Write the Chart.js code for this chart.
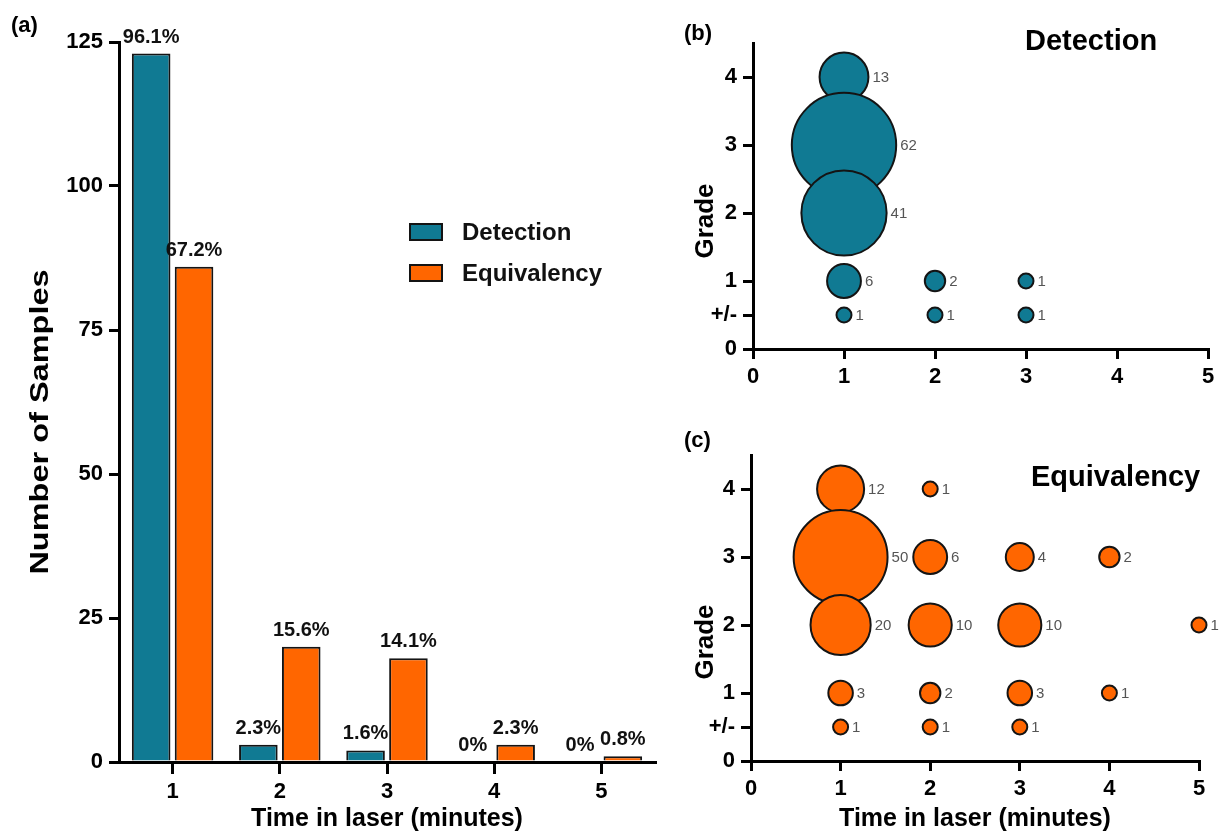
<!DOCTYPE html>
<html>
<head>
<meta charset="utf-8">
<script src="https://cdn.jsdelivr.net/npm/chart.js@4.4.1/dist/chart.umd.min.js"></script>
<style>
  html, body { margin: 0; padding: 0; background: #fff; }
  body { width: 1221px; height: 832px; position: relative; overflow: hidden; }
  canvas { position: absolute; }
  #bars { left: 0; top: 0; }
  #detection { left: 670px; top: 0; }
  #equivalency { left: 670px; top: 400px; }
</style>
</head>
<body>
<canvas id="bars" width="670" height="832"></canvas>
<canvas id="detection" width="551" height="400"></canvas>
<canvas id="equivalency" width="551" height="432"></canvas>
<script>
// (a) samples per time in laser
const timeLabels = ["1", "2", "3", "4", "5"]
const detectionCounts = [123, 3, 2, 0, 0]
const equivalencyCounts = [86, 20, 18, 3, 1]
const detectionPercents = ["96.1%", "2.3%", "1.6%", "0%", "0%"]
const equivalencyPercents = ["67.2%", "15.6%", "14.1%", "2.3%", "0.8%"]
const countTicks = [0, 25, 50, 75, 100, 125]

// (b) and (c) grade vs time, bubble = number of samples
const gradeTickValues = [0, 0.5, 1, 2, 3, 4]
const gradeTickLabels = ["0", "+/-", "1", "2", "3", "4"]

const detectionTimes  = [1, 1, 1, 1, 2, 3, 1, 2, 3]
const detectionGrades = [4, 3, 2, 1, 1, 1, 0.5, 0.5, 0.5]
const detectionSizes  = [13, 62, 41, 6, 2, 1, 1, 1, 1]

const equivalencyTimes  = [1, 2, 1, 2, 3, 4, 1, 2, 3, 5, 1, 2, 3, 4, 1, 2, 3]
const equivalencyGrades = [4, 4, 3, 3, 3, 3, 2, 2, 2, 2, 1, 1, 1, 1, 0.5, 0.5, 0.5]
const equivalencySizes  = [12, 1, 50, 6, 4, 2, 20, 10, 10, 1, 3, 2, 3, 1, 1, 1, 1]

const TEAL = "#107a93"
const ORANGE = "#ff6600"
const EDGE = "#141414"
const FONT = "'Liberation Sans', Arial, Helvetica, sans-serif"

Chart.defaults.font.family = FONT
Chart.defaults.color = "#000"

const bubbleRadius = n => 6.5 * Math.sqrt(n) + 1

const toBubbles = (xs, ys, ns) => xs.map((x, i) => ({ x: x, y: ys[i], r: bubbleRadius(ns[i]), n: ns[i] }))

// free text: panel letters, titles, rotated axis titles
const panelText = {
  id: "panelText",
  afterDraw(chart, args, opts) {
    const ctx = chart.ctx
    ;(opts.items || []).forEach(item => {
      ctx.save()
      ctx.font = item.font
      ctx.fillStyle = item.color || "#000"
      ctx.textAlign = item.align || "left"
      ctx.textBaseline = "middle"
      ctx.translate(item.x, item.y)
      if (item.rotate) ctx.rotate(item.rotate)
      if (item.stretch) ctx.scale(item.stretch, 1)
      ctx.fillText(item.text, 0, 0)
      ctx.restore()
    })
  }
}

// percent labels above bars
const barLabels = {
  id: "barLabels",
  afterDatasetsDraw(chart) {
    const ctx = chart.ctx
    ctx.save()
    ctx.font = "bold 20px " + FONT
    ctx.fillStyle = "#111"
    ctx.textAlign = "center"
    ctx.textBaseline = "alphabetic"
    chart.data.datasets.forEach((ds, i) => {
      chart.getDatasetMeta(i).data.forEach((bar, j) => {
        ctx.fillText(ds.percents[j], bar.x, bar.y - 11)
      })
    })
    ctx.restore()
  }
}

// legend boxes inside the plot
const boxLegend = {
  id: "boxLegend",
  afterDraw(chart, args, opts) {
    const ctx = chart.ctx
    ctx.save()
    ctx.font = "bold 24px " + FONT
    ctx.textBaseline = "middle"
    chart.data.datasets.forEach((ds, i) => {
      const y = opts.y + i * opts.gap
      ctx.fillStyle = ds.backgroundColor
      ctx.fillRect(opts.x, y - 8, 32, 16)
      ctx.lineWidth = 2
      ctx.strokeStyle = EDGE
      ctx.strokeRect(opts.x, y - 8, 32, 16)
      ctx.fillStyle = "#111"
      ctx.fillText(ds.label, opts.x + 52, y + 1)
    })
    ctx.restore()
  }
}

// sample counts to the right of each bubble
const bubbleCounts = {
  id: "bubbleCounts",
  afterDatasetsDraw(chart) {
    const ctx = chart.ctx
    ctx.save()
    ctx.font = "15px " + FONT
    ctx.fillStyle = "#555"
    ctx.textAlign = "left"
    ctx.textBaseline = "middle"
    chart.getDatasetMeta(0).data.forEach((pt, j) => {
      const raw = chart.data.datasets[0].data[j]
      ctx.fillText(String(raw.n), pt.x + raw.r + 4, pt.y + 1)
    })
    ctx.restore()
  }
}

const axisLines = (tickLength) => ({
  display: true,
  drawOnChartArea: false,
  drawTicks: true,
  tickLength: tickLength,
  color: "#000",
  lineWidth: 3
})

new Chart(document.getElementById("bars"), {
  type: "bar",
  data: {
    labels: timeLabels,
    datasets: [
      { label: "Detection", data: detectionCounts, percents: detectionPercents,
        backgroundColor: TEAL, borderColor: EDGE, borderWidth: 2 },
      { label: "Equivalency", data: equivalencyCounts, percents: equivalencyPercents,
        backgroundColor: ORANGE, borderColor: EDGE, borderWidth: 2 }
    ]
  },
  options: {
    responsive: false,
    animation: false,
    events: [],
    layout: { autoPadding: false, padding: { left: 0, top: 42, right: 15, bottom: 0 } },
    plugins: {
      legend: { display: false },
      tooltip: { enabled: false },
      boxLegend: { x: 410, y: 232, gap: 41 },
      panelText: { items: [
        { text: "(a)", x: 11, y: 26, font: "bold 22px " + FONT },
        { text: "Number of Samples", x: 41, y: 422, font: "bold 25px " + FONT,
          align: "center", rotate: -Math.PI / 2, stretch: 1.3 }
      ] }
    },
    scales: {
      x: {
        offset: true,
        grid: Object.assign(axisLines(12), { offset: false }),
        border: { color: "#000", width: 3 },
        ticks: { font: { size: 22, weight: "bold" }, padding: 5 },
        title: { display: true, text: "Time in laser (minutes)",
          font: { size: 25, weight: "bold", lineHeight: 1 }, padding: { top: 0, bottom: 0 } },
        afterFit: scale => { scale.height = 70 }
      },
      y: {
        min: 0,
        max: 125,
        afterBuildTicks: scale => { scale.ticks = countTicks.map(v => ({ value: v })) },
        grid: axisLines(10),
        border: { color: "#000", width: 3 },
        ticks: { font: { size: 22, weight: "bold" }, padding: 6 },
        afterFit: scale => { scale.width = 119 }
      }
    }
  },
  plugins: [barLabels, boxLegend, panelText]
})

function gradeChart(canvasId, points, color, frame, extraText) {
  return new Chart(document.getElementById(canvasId), {
    type: "bubble",
    data: {
      datasets: [{ data: points, backgroundColor: color, borderColor: EDGE, borderWidth: 2,
        hoverRadius: 0, clip: false }]
    },
    options: {
      responsive: false,
      animation: false,
      events: [],
      layout: { autoPadding: false, padding: { left: 0, top: frame.top, right: frame.right, bottom: 0 } },
      plugins: {
        legend: { display: false },
        tooltip: { enabled: false },
        panelText: { items: extraText }
      },
      scales: {
        x: {
          type: "linear",
          min: 0,
          max: 5,
          grid: axisLines(10),
          border: { color: "#000", width: 3 },
          ticks: { stepSize: 1, font: { size: 22, weight: "bold" }, padding: 5 },
          title: { display: frame.xTitle, text: "Time in laser (minutes)",
            font: { size: 25, weight: "bold", lineHeight: 1 }, padding: { top: 0, bottom: 0 } },
          afterFit: scale => { scale.height = frame.xHeight }
        },
        y: {
          type: "linear",
          min: 0,
          max: 4.5,
          afterBuildTicks: scale => { scale.ticks = gradeTickValues.map(v => ({ value: v })) },
          grid: axisLines(10),
          border: { color: "#000", width: 3 },
          ticks: {
            autoSkip: false,
            font: { size: 22, weight: "bold" },
            padding: 6,
            callback: value => gradeTickLabels[gradeTickValues.indexOf(value)]
          },
          afterFit: scale => { scale.width = frame.yWidth }
        }
      }
    },
    plugins: [bubbleCounts, panelText]
  })
}

gradeChart("detection", toBubbles(detectionTimes, detectionGrades, detectionSizes), TEAL,
  { top: 43, right: 13, yWidth: 83, xHeight: 51, xTitle: false },
  [
    { text: "(b)", x: 14, y: 34, font: "bold 22px " + FONT },
    { text: "Detection", x: 355, y: 42, font: "bold 29px " + FONT },
    { text: "Grade", x: 36, y: 221, font: "bold 26px " + FONT, align: "center", rotate: -Math.PI / 2 }
  ])

gradeChart("equivalency", toBubbles(equivalencyTimes, equivalencyGrades, equivalencySizes), ORANGE,
  { top: 55, right: 22, yWidth: 81, xHeight: 71, xTitle: true },
  [
    { text: "(c)", x: 14, y: 41, font: "bold 22px " + FONT },
    { text: "Equivalency", x: 361, y: 78, font: "bold 29px " + FONT },
    { text: "Grade", x: 36, y: 242, font: "bold 26px " + FONT, align: "center", rotate: -Math.PI / 2 }
  ])
</script>
</body>
</html>
